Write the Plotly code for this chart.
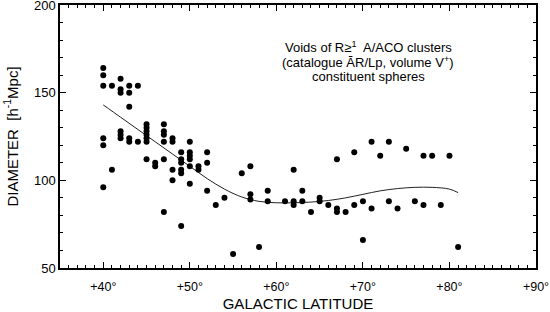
import plotly.graph_objects as go

# Scatter data: galactic latitude (deg) and diameter (h^-1 Mpc)
lat = [40, 40, 40, 40, 40, 40,
       41, 41,
       42, 42, 42, 42, 42, 42,
       43, 43, 43, 43, 43,
       44, 44,
       45, 45, 45, 45, 45, 45, 45,
       46, 46,
       47, 47, 47, 47, 47, 47,
       48, 48, 48, 48,
       49, 49, 49, 49, 49, 49,
       50, 50, 50, 50, 50, 50,
       51, 51,
       52, 52, 52,
       53, 54, 55, 56, 57, 57, 57, 58, 59, 59,
       61, 62, 62, 62, 63, 63, 64, 65, 65, 66,
       67, 67, 67, 68, 69, 69, 70, 70, 71, 71, 72,
       73, 73, 74, 75, 76, 77, 77, 78, 79, 80, 81]
diam = [164, 160, 154, 124, 120, 96,
        154, 106,
        158, 152, 150, 128, 126, 124,
        154, 150, 142, 124, 122,
        154, 122,
        132, 130, 128, 126, 124, 122, 112,
        110, 108,
        132, 128, 126, 122, 112, 82,
        124, 122, 106, 100,
        116, 112, 110, 106, 104, 74,
        122, 116, 114, 112, 108, 98,
        108, 106,
        116, 110, 94,
        86, 90, 58, 104, 108, 92, 89, 62, 94, 88,
        88, 106, 88, 86, 94, 88, 82, 90, 88, 86,
        112, 84, 82, 82, 116, 86, 88, 66, 122, 84, 114,
        122, 88, 84, 118, 88, 114, 86, 114, 86, 114, 62]

# Fitted curve
fit_lat = [40, 42, 44, 46, 48, 50, 52, 54, 56, 58, 60, 62, 64, 66, 68, 70, 72, 74, 76, 78, 80, 81]
fit_diam = [143, 136, 129, 122, 115, 108, 101, 95, 90.5, 88, 87.2, 87.2, 87.6, 88.5, 90, 92, 94, 95.3, 96, 96, 95, 93]

legend_lines = ["Voids of R≥<sup>1</sup>  A/ACO clusters",
                "(catalogue ĀR/Lp, volume V<sup>+</sup>)",
                "constituent spheres"]

font = "Liberation Sans, Arial, Helvetica, sans-serif"

L, R, T, B = 60, 536, 5, 268

fig = go.Figure()
fig.add_trace(go.Scatter(x=fit_lat, y=fit_diam, mode="lines",
                         line=dict(color="#222222", width=1, shape="spline"),
                         hoverinfo="skip", showlegend=False))
fig.add_trace(go.Scatter(x=lat, y=diam, mode="markers",
                         marker=dict(color="black", size=6),
                         showlegend=False))

for text, py in zip(legend_lines, [47, 62, 76]):
    fig.add_annotation(
        x=(368 - L) / (R - L), y=(B - py) / (B - T), xref="paper", yref="paper",
        xanchor="center", yanchor="middle", showarrow=False, text=text,
        font=dict(family=font, size=13, color="black"), align="center")

axis_common = dict(
    showline=True, linecolor="black", linewidth=1.5, mirror="ticks",
    ticks="inside", tickcolor="black", tickwidth=1, ticklen=6,
    showgrid=False, zeroline=False, automargin=False, ticklabeloverflow="allow",
)

fig.update_xaxes(range=[35, 90], tickmode="linear", tick0=40, dtick=10,
                 tickprefix="+", ticksuffix="°", ticklabelstandoff=6,
                 tickfont=dict(family=font, size=12.5, color="black"),
                 minor=dict(ticks="inside", dtick=1, tick0=35, ticklen=3,
                            tickcolor="black", tickwidth=1, showgrid=False),
                 title=dict(text="GALACTIC LATITUDE", standoff=13,
                            font=dict(family=font, size=15, color="black")),
                 **axis_common)
fig.update_yaxes(range=[50, 200], tickmode="linear", tick0=50, dtick=50,
                 tickfont=dict(family=font, size=13, color="black"),
                 minor=dict(ticks="inside", dtick=10, tick0=50, ticklen=3,
                            tickcolor="black", tickwidth=1, showgrid=False),
                 title=dict(text="DIAMETER  [h<sup>-1</sup>Mpc]", standoff=12,
                            font=dict(family=font, size=15, color="black")),
                 **axis_common)

fig.update_layout(width=550, height=312, plot_bgcolor="white", paper_bgcolor="white",
                  margin=dict(l=L, r=550 - R, t=T, b=312 - B, autoexpand=False),
                  showlegend=False)

fig.write_html("out.html", config={"displayModeBar": False},
               post_script="document.body.style.margin='0';")
